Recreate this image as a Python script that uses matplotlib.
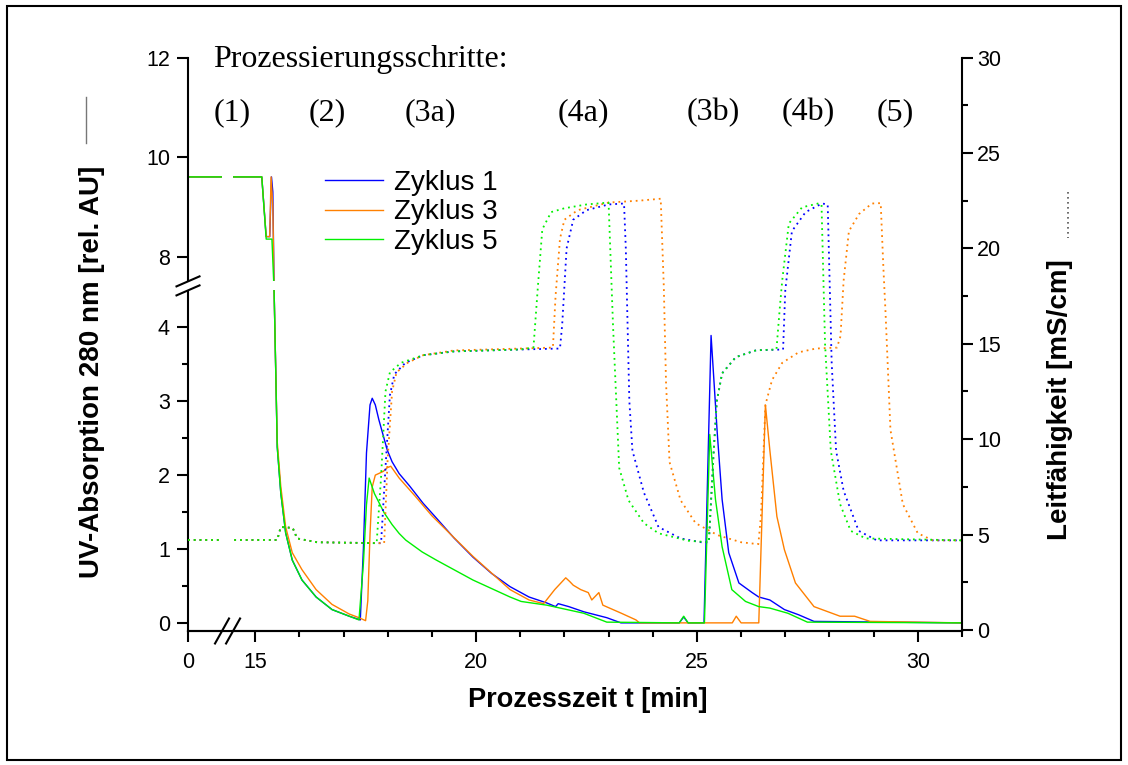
import matplotlib
matplotlib.use('Agg')
import matplotlib.pyplot as plt
import numpy as np
from matplotlib.lines import Line2D
from matplotlib.patches import Rectangle
from matplotlib.ticker import FixedLocator

plt.rcParams['font.family'] = ['Liberation Sans', 'DejaVu Sans']

# Zeitachse: Unterbrechung zwischen XB0 und XB1 (min)
XB0, XB1, XGAP = 0.77, 14.5, 0.25
# UV-Achse: Unterbrechung zwischen YB0 und YB1, oben gestaucht
YB0, YB1, YGAP, YSTAUCH = 4.5, 7.5, 0.122, 0.6734

# UV-Absorption (durchgezogen)
t_uv1 = [0, 15.15, 15.25, 15.33, 15.37, 15.40, 15.43, 15.47, 15.50, 15.58, 15.69, 15.84,
         16.06, 16.38, 16.74, 17.13, 17.38, 17.45, 17.52, 17.60, 17.65, 17.72, 17.80, 17.99,
         18.10, 18.26, 18.50, 18.80, 19.10, 19.50, 19.93, 20.35, 20.77, 21.20, 21.60, 21.80,
         21.86, 22.10, 22.44, 22.96, 23.28, 24.60, 24.70, 24.80, 25.16, 25.32, 25.46, 25.57,
         25.72, 25.95, 26.25, 26.40, 26.65, 26.98, 27.30, 27.65, 31.0]
uv1 = [9.6, 9.6, 8.4, 8.4, 9.6, 9.3, 4.47, 3.29, 2.38, 1.76, 1.22, 0.85,
       0.58, 0.35, 0.18, 0.09, 0.04, 1.0, 2.3, 2.95, 3.04, 2.95, 2.75, 2.34,
       2.18, 2.02, 1.85, 1.62, 1.42, 1.15, 0.89, 0.67, 0.49, 0.35, 0.27, 0.22,
       0.26, 0.22, 0.15, 0.07, 0.0, 0.0, 0.08, 0.0, 0.0, 3.89, 2.57, 1.67,
       0.95, 0.54, 0.41, 0.35, 0.31, 0.18, 0.11, 0.02, 0.0]

t_uv3 = [0, 15.15, 15.25, 15.33, 15.36, 15.40, 15.43, 15.47, 15.50, 15.58, 15.69, 15.84,
         16.06, 16.38, 16.74, 17.13, 17.35, 17.50, 17.55, 17.60, 17.65, 17.72, 17.90, 17.99,
         18.07, 18.26, 18.63, 19.00, 19.93, 20.77, 21.20, 21.53, 21.78, 22.03, 22.12, 22.20,
         22.37, 22.54, 22.62, 22.78, 22.87, 23.29, 23.62, 23.70, 25.80, 25.89, 26.00, 26.40,
         26.55, 26.65, 26.81, 26.98, 27.23, 27.65, 28.24, 28.57, 28.92, 31.0]
uv3 = [9.6, 9.6, 8.4, 8.4, 9.6, 9.0, 4.47, 3.3, 2.45, 1.85, 1.3, 0.95,
       0.72, 0.45, 0.25, 0.12, 0.07, 0.03, 0.3, 1.2, 1.84, 2.0, 2.05, 2.1,
       2.12, 1.96, 1.71, 1.45, 0.9, 0.45, 0.31, 0.26, 0.45, 0.61, 0.56, 0.51,
       0.45, 0.41, 0.31, 0.41, 0.24, 0.13, 0.04, 0.0, 0.0, 0.09, 0.0, 0.0,
       2.95, 2.34, 1.44, 0.99, 0.54, 0.22, 0.09, 0.09, 0.02, 0.0]

t_uv5 = [0, 15.15, 15.25, 15.38, 15.43, 15.47, 15.50, 15.58, 15.69, 15.84, 16.06, 16.38,
         16.74, 17.13, 17.35, 17.45, 17.52, 17.58, 17.70, 17.92, 18.10, 18.26, 18.41, 18.78,
         19.10, 19.93, 20.77, 21.02, 21.60, 22.44, 22.96, 24.60, 24.70, 24.80, 25.17, 25.29,
         25.42, 25.57, 25.79, 26.10, 26.40, 26.65, 27.06, 27.50, 31.0]
uv5 = [9.6, 9.6, 8.35, 8.35, 4.47, 3.29, 2.38, 1.76, 1.22, 0.85, 0.58, 0.35,
       0.18, 0.09, 0.04, 0.8, 1.6, 1.96, 1.75, 1.49, 1.33, 1.21, 1.12, 0.96,
       0.85, 0.58, 0.35, 0.29, 0.24, 0.13, 0.01, 0.0, 0.09, 0.0, 0.0, 2.55,
       1.67, 1.03, 0.45, 0.29, 0.22, 0.20, 0.13, 0.01, 0.0]

# Leitfaehigkeit (gepunktet)
t_lf1 = [0, 15.50, 15.58, 15.85, 15.95, 16.40, 17.85, 17.95, 18.05, 18.15, 18.40, 18.80,
         19.50, 21.00, 21.90, 21.95, 22.05, 22.20, 22.50, 23.00, 23.35, 23.39, 23.47, 23.54,
         23.80, 24.13, 24.63, 25.10, 25.27, 25.38, 25.45, 25.57, 25.88, 26.34, 26.95, 27.00,
         27.15, 27.46, 27.83, 27.96, 28.05, 28.15, 28.32, 28.66, 29.07, 31.0]
lf1 = [4.72, 4.72, 5.4, 5.35, 4.8, 4.6, 4.55, 8.5, 12.3, 13.4, 14.0, 14.4,
       14.6, 14.7, 14.75, 16.0, 20.0, 21.5, 22.0, 22.3, 22.35, 20.0, 12.0, 9.4,
       7.2, 5.4, 4.8, 4.6, 4.6, 9.4, 12.0, 13.45, 14.3, 14.66, 14.7, 17.8,
       20.9, 21.9, 22.35, 22.3, 14.0, 9.4, 7.3, 5.2, 4.7, 4.7]

t_lf3 = [0, 15.50, 15.58, 15.85, 15.95, 16.40, 17.92, 18.00, 18.10, 18.20, 18.45, 18.80,
         19.50, 21.00, 21.74, 21.80, 21.90, 22.00, 22.30, 23.00, 23.70, 24.18, 24.25, 24.30,
         24.38, 24.63, 24.97, 25.47, 26.00, 26.39, 26.45, 26.55, 26.70, 26.93, 27.30, 27.69,
         28.17, 28.25, 28.32, 28.44, 28.67, 28.96, 29.16, 29.22, 29.27, 29.38, 29.66, 30.00,
         30.34, 31.0]
lf3 = [4.72, 4.72, 5.4, 5.35, 4.8, 4.6, 4.55, 9.0, 12.5, 13.5, 14.0, 14.4,
       14.65, 14.75, 14.8, 17.5, 20.5, 21.5, 22.0, 22.4, 22.5, 22.6, 18.0, 13.0,
       8.8, 6.8, 5.6, 4.97, 4.6, 4.5, 6.0, 11.8, 13.1, 14.0, 14.55, 14.75,
       14.8, 15.4, 18.3, 20.9, 21.8, 22.35, 22.37, 19.0, 16.6, 10.5, 6.6, 5.07,
       4.7, 4.7]

t_lf5 = [0, 15.50, 15.58, 15.85, 15.95, 16.40, 17.75, 17.85, 17.95, 18.05, 18.30, 18.80,
         19.50, 21.00, 21.30, 21.40, 21.50, 21.70, 22.00, 22.50, 23.00, 23.10, 23.24, 23.45,
         23.80, 24.13, 24.80, 25.27, 25.38, 25.45, 25.57, 25.88, 26.34, 26.80, 26.88, 26.93,
         27.08, 27.38, 27.76, 27.82, 27.90, 28.03, 28.24, 28.48, 28.82, 31.0]
lf5 = [4.72, 4.72, 5.4, 5.35, 4.8, 4.6, 4.55, 8.0, 12.5, 13.5, 14.0, 14.4,
       14.6, 14.7, 14.8, 18.0, 21.0, 21.9, 22.1, 22.3, 22.4, 16.0, 8.5, 6.8,
       5.6, 5.07, 4.68, 4.6, 9.4, 12.0, 13.45, 14.3, 14.66, 14.7, 17.0, 18.3,
       21.3, 22.15, 22.36, 22.3, 15.0, 9.4, 6.6, 5.2, 4.8, 4.7]

zyklen = ['Zyklus 1', 'Zyklus 3', 'Zyklus 5']
farben = ['#0000ff', '#ff8000', '#00f000']
schritte = ['(1)', '(2)', '(3a)', '(4a)', '(3b)', '(4b)', '(5)']
schritt_px = [232, 327, 430, 583, 713, 808, 895]


def x_vor(t):
    return np.interp(t, [-100, XB0, XB1, 100], [-100, XB0, XB0 + XGAP, XB0 + XGAP + 100 - XB1])


def x_rueck(u):
    return np.interp(u, [-100, XB0, XB0 + XGAP, XB0 + XGAP + 100 - XB1], [-100, XB0, XB1, 100])


Y_OBEN = YB0 + YGAP + (100 - YB1) * YSTAUCH


def y_vor(v):
    return np.interp(v, [-100, YB0, YB1, 100], [-100, YB0, YB0 + YGAP, Y_OBEN])


def y_rueck(u):
    return np.interp(u, [-100, YB0, YB0 + YGAP, Y_OBEN], [-100, YB0, YB1, 100])


W, H = 1128, 765
fig = plt.figure(figsize=(W / 100, H / 100), dpi=100)
ax = fig.add_axes([188 / W, (H - 631) / H, 774 / W, 573.5 / H])
ax.set_xscale('function', functions=(x_vor, x_rueck))
ax.set_yscale('function', functions=(y_vor, y_rueck))
ax2 = ax.twinx()

for t, v, f, name in zip([t_uv1, t_uv3, t_uv5], [uv1, uv3, uv5], farben, zyklen):
    ax.plot(t, v, color=f, lw=1.0, label=name)
for t, v, f in zip([t_lf1, t_lf3, t_lf5], [lf1, lf3, lf5], farben):
    ax2.plot(t, v, color=f, lw=1.3, linestyle=(0, (1, 2.2)))

ax.set_xlim(0, 31)
ax.set_ylim(-0.11, 12)
ax2.set_ylim(-0.05, 30)

ax.xaxis.set_major_locator(FixedLocator([0, 15, 20, 25, 30]))
ax.xaxis.set_minor_locator(FixedLocator([16, 17, 18, 19, 21, 22, 23, 24, 26, 27, 28, 29, 31]))
ax.yaxis.set_major_locator(FixedLocator([0, 1, 2, 3, 4, 8, 10, 12]))
ax.yaxis.set_minor_locator(FixedLocator([0.5, 1.5, 2.5, 3.5]))
ax.xaxis.set_major_formatter(lambda v, p: f'{v:g}')
ax.yaxis.set_major_formatter(lambda v, p: f'{v:g}')
ax2.yaxis.set_major_locator(FixedLocator(np.arange(0, 31, 5)))
ax2.yaxis.set_minor_locator(FixedLocator(np.arange(2.5, 30, 5)))

for a in (ax, ax2):
    a.tick_params(which='major', length=8, width=1.5, labelsize=15.5, direction='out')
    a.tick_params(which='minor', length=4, width=1.5, direction='out')
    a.spines['top'].set_visible(False)
    for s in a.spines.values():
        s.set_linewidth(1.5)
ax.tick_params(axis='x', pad=7)
ax.tick_params(axis='y', pad=5)
ax2.tick_params(axis='y', pad=3)
ax.spines['right'].set_visible(False)
ax2.spines['left'].set_visible(False)
ax2.xaxis.set_visible(False)

# Unterbrechungen weiss abdecken
ax2.axvspan(XB0, XB1, color='white', lw=0, zorder=2.2)
ax2.add_patch(Rectangle((-0.05, YB0), 17.05, YB1 - YB0, transform=ax.transData,
                        color='white', lw=0, zorder=2.2, clip_on=False))

inv = fig.transFigure.inverted()


def strich(x, y, dx, dy, trans):
    px, py = trans.transform((x, y))
    p = inv.transform([(px - dx, py - dy), (px + dx, py + dy)])
    fig.add_artist(Line2D(p[:, 0], p[:, 1], color='black', lw=1.5))


xtr = ax.get_xaxis_transform()
for xb in (XB0, XB1):
    strich(xb, 0, 7, 12.5, xtr)
ytr = ax.get_yaxis_transform()
for yb in (YB0, YB1):
    strich(0, yb, 11.5, 5, ytr)

ax.legend(loc='upper left', bbox_to_anchor=(0.177, 0.804), frameon=False, fontsize=20,
          handlelength=2.1, handletextpad=0.4, labelspacing=0.12, borderaxespad=0, borderpad=0)

serif = ['Liberation Serif', 'DejaVu Serif']
fig.text(213 / W, 1 - 60 / H, 'Prozessierungsschritte:', family=serif, fontsize=23,
         ha='left', va='center')
for s, px in zip(schritte, schritt_px):
    fig.text(px / W, 1 - 113 / H, s, family=serif, fontsize=23, ha='center', va='center')

fig.text(92 / W, 1 - 372 / H, 'UV-Absorption 280 nm [rel. AU]', rotation=90, fontsize=20,
         fontweight='bold', ha='center', va='center')
fig.add_artist(Line2D([86 / W, 86 / W], [1 - 97 / H, 1 - 143 / H], color='#777777', lw=1.0))
fig.text(1060 / W, 1 - 400 / H, 'Leitfähigkeit [mS/cm]', rotation=90, fontsize=20,
         fontweight='bold', ha='center', va='center')
fig.add_artist(Line2D([1068 / W, 1068 / W], [1 - 192 / H, 1 - 238 / H], color='#555555',
                      lw=1.2, linestyle=(0, (1, 2))))
fig.text(588 / W, 1 - 700 / H, 'Prozesszeit t [min]', fontsize=19.5, fontweight='bold',
         ha='center', va='center')

fig.add_artist(Rectangle((7 / W, 1 - 760 / H), 1114 / W, 754 / H, transform=fig.transFigure,
                         fill=False, edgecolor='black', lw=1.5))

fig.savefig('out.png', dpi=100)
